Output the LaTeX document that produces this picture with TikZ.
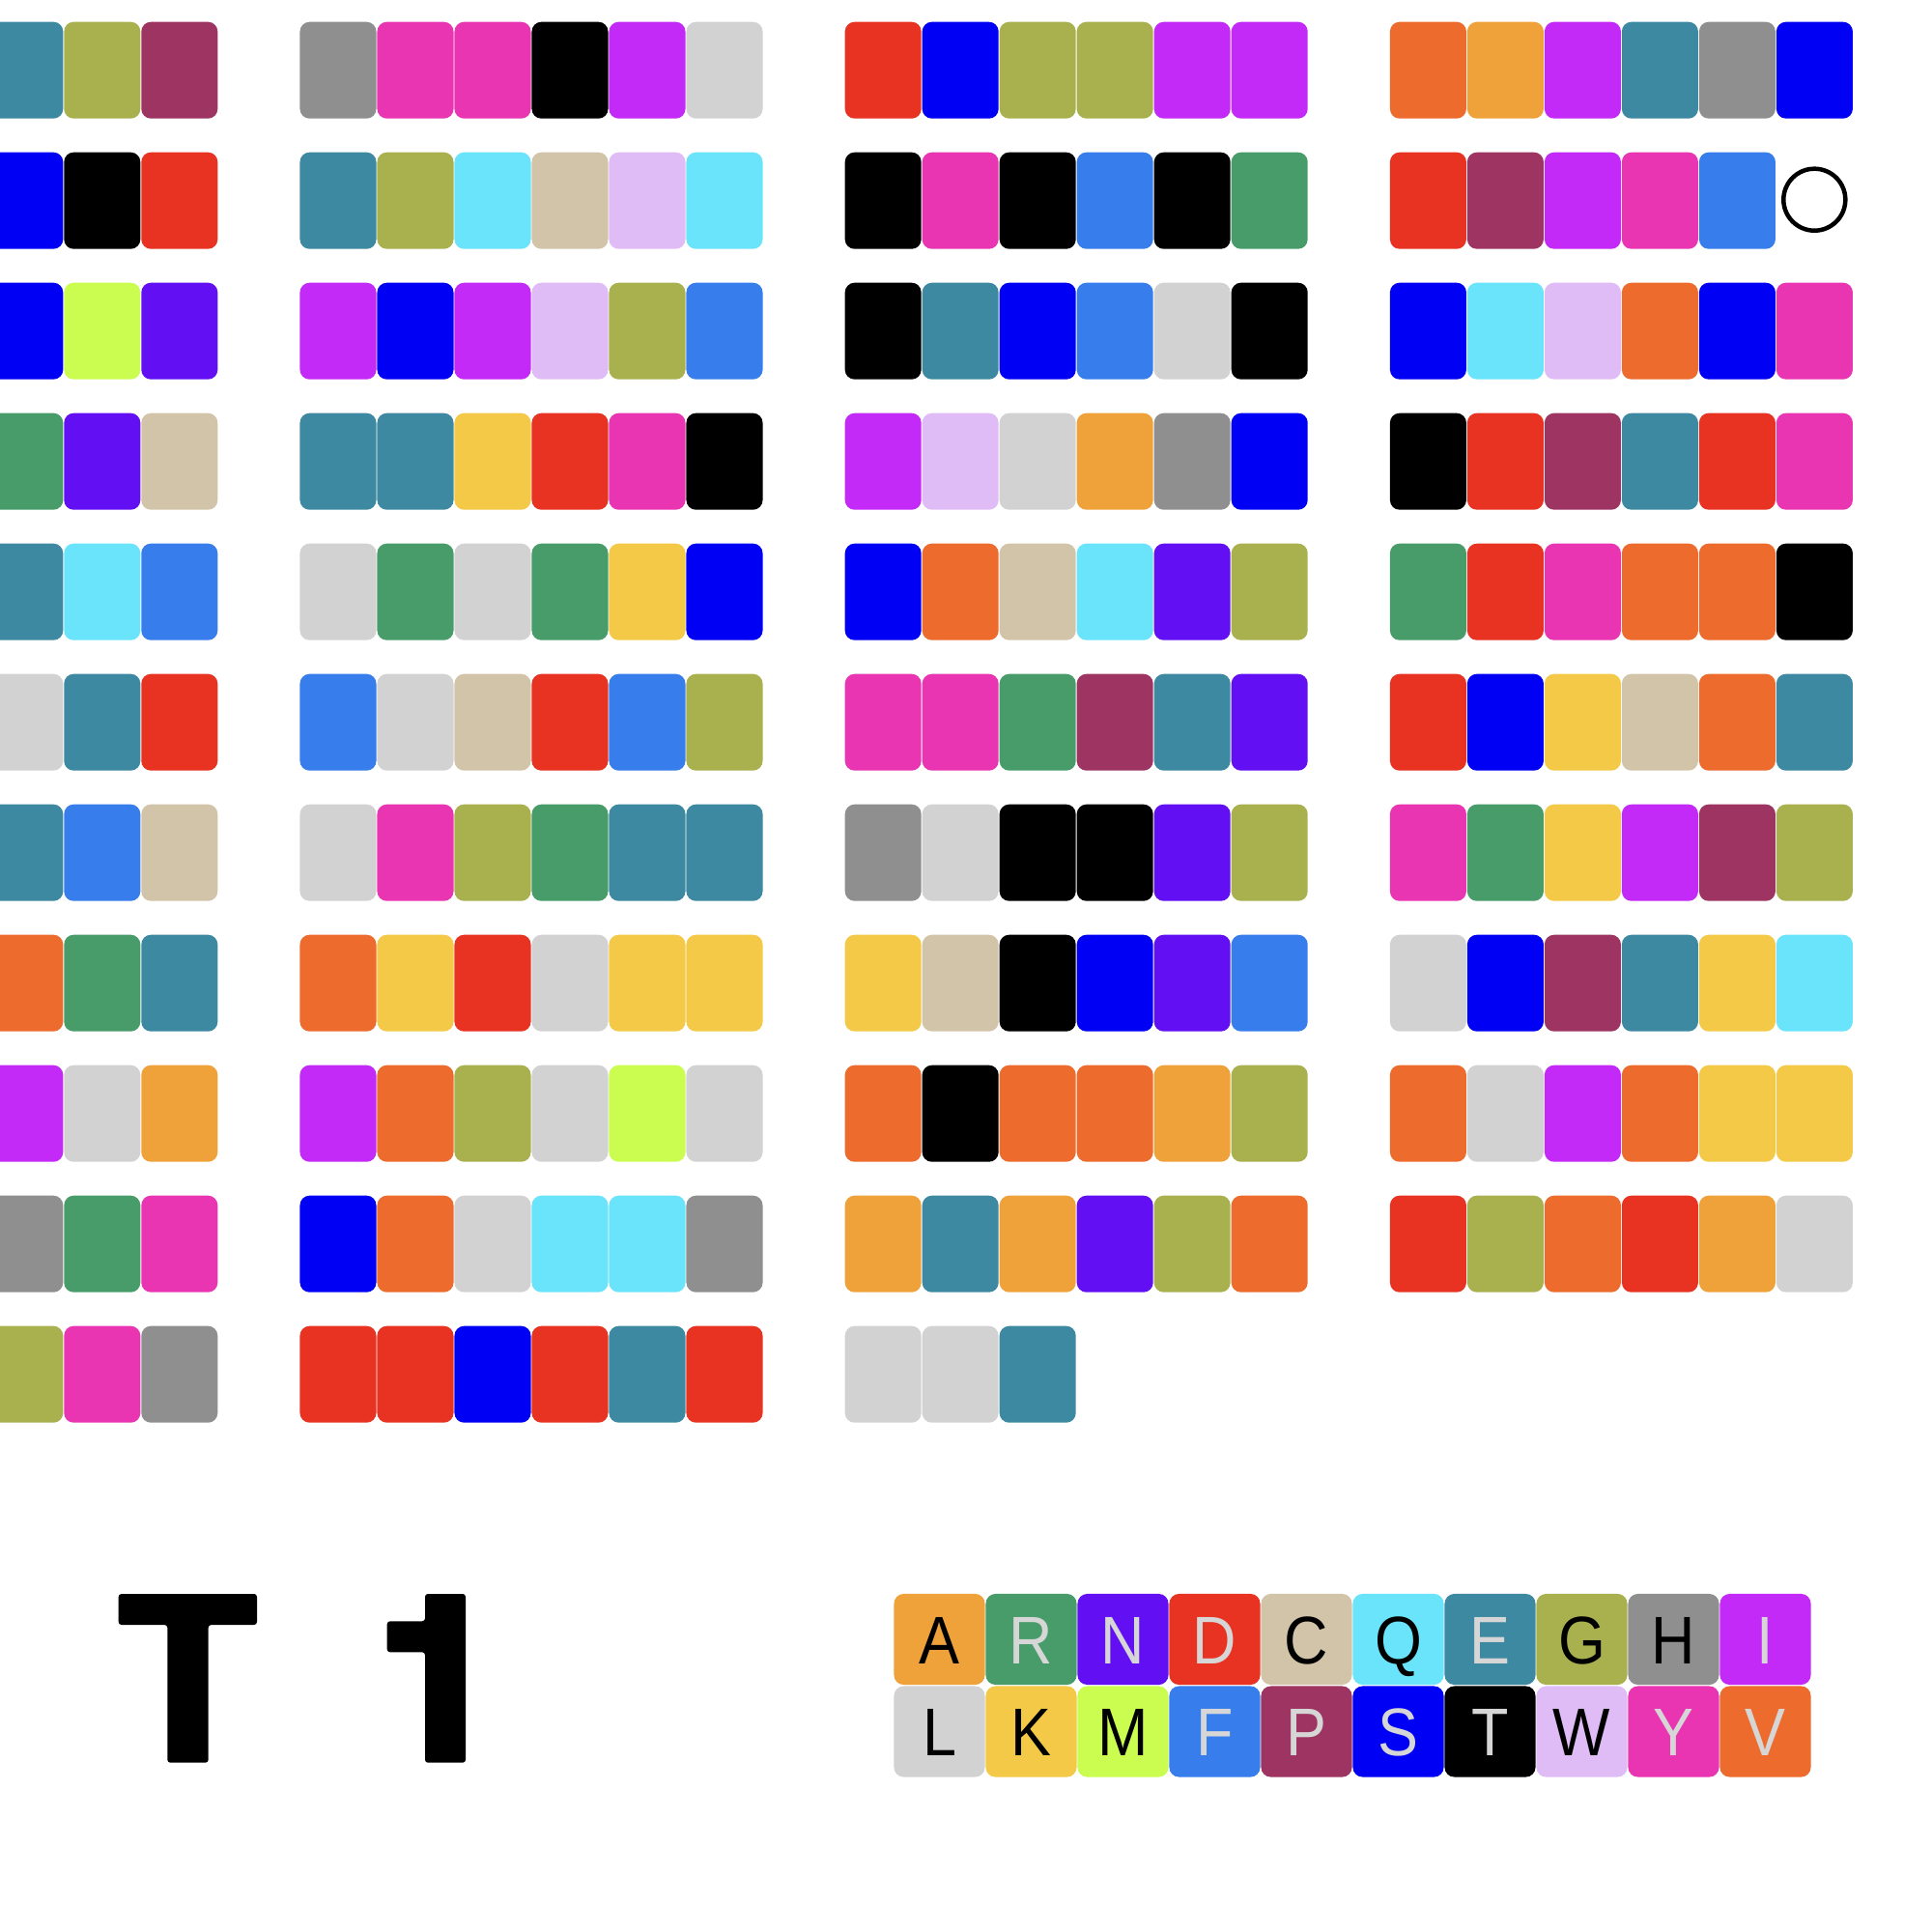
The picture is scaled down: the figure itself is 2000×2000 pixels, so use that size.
\documentclass[tikz,border=0pt]{standalone}
\usepackage{fontspec}
\setmainfont{Liberation Sans}
\newfontfamily\legfont[FakeStretch=0.9]{Liberation Sans}
\definecolor{aaA}{HTML}{F0A23A}
\definecolor{aaR}{HTML}{489C6A}
\definecolor{aaN}{HTML}{620FF3}
\definecolor{aaD}{HTML}{E83323}
\definecolor{aaC}{HTML}{D2C4A9}
\definecolor{aaQ}{HTML}{6AE4FA}
\definecolor{aaE}{HTML}{3D89A1}
\definecolor{aaG}{HTML}{A9B04E}
\definecolor{aaH}{HTML}{8F8F8F}
\definecolor{aaI}{HTML}{C42AF7}
\definecolor{aaL}{HTML}{D3D2D3}
\definecolor{aaK}{HTML}{F3C947}
\definecolor{aaM}{HTML}{CBFD50}
\definecolor{aaF}{HTML}{377EEC}
\definecolor{aaP}{HTML}{9D3461}
\definecolor{aaS}{HTML}{0000F5}
\definecolor{aaT}{HTML}{000000}
\definecolor{aaW}{HTML}{E0BCF7}
\definecolor{aaY}{HTML}{EA35B2}
\definecolor{aaV}{HTML}{EC6B2D}
\definecolor{lt}{HTML}{D6D6D6}
\begin{document}
\begin{tikzpicture}[x=0.01cm,y=-0.01cm,
  cell/.style={rectangle, rounded corners=1mm, minimum width=0.79cm, minimum height=1cm, inner sep=0pt},
  leg/.style={rectangle, rounded corners=1mm, minimum width=0.94cm, minimum height=0.94cm, inner sep=0pt,
    text height=0.5cm, text depth=0pt, font=\legfont\fontsize{19.86}{20}\selectfont},
  glyph/.style={fill=black, rounded corners=0.3mm}]
\useasboundingbox (0,0) rectangle (2000,2000);
\clip (0,0) rectangle (2000,2000);
\foreach \r/\b/\st/\s in {
 1/1/4/{E,G,P}, 1/2/1/{H,Y,Y,T,I,L}, 1/3/1/{D,S,G,G,I,I}, 1/4/1/{V,A,I,E,H,S},
 2/1/4/{S,T,D}, 2/2/1/{E,G,Q,C,W,Q}, 2/3/1/{T,Y,T,F,T,R}, 2/4/1/{D,P,I,Y,F},
 3/1/4/{S,M,N}, 3/2/1/{I,S,I,W,G,F}, 3/3/1/{T,E,S,F,L,T}, 3/4/1/{S,Q,W,V,S,Y},
 4/1/4/{R,N,C}, 4/2/1/{E,E,K,D,Y,T}, 4/3/1/{I,W,L,A,H,S}, 4/4/1/{T,D,P,E,D,Y},
 5/1/4/{E,Q,F}, 5/2/1/{L,R,L,R,K,S}, 5/3/1/{S,V,C,Q,N,G}, 5/4/1/{R,D,Y,V,V,T},
 6/1/4/{L,E,D}, 6/2/1/{F,L,C,D,F,G}, 6/3/1/{Y,Y,R,P,E,N}, 6/4/1/{D,S,K,C,V,E},
 7/1/4/{E,F,C}, 7/2/1/{L,Y,G,R,E,E}, 7/3/1/{H,L,T,T,N,G}, 7/4/1/{Y,R,K,I,P,G},
 8/1/4/{V,R,E}, 8/2/1/{V,K,D,L,K,K}, 8/3/1/{K,C,T,S,N,F}, 8/4/1/{L,S,P,E,K,Q},
 9/1/4/{I,L,A}, 9/2/1/{I,V,G,L,M,L}, 9/3/1/{V,T,V,V,A,G}, 9/4/1/{V,L,I,V,K,K},
 10/1/4/{H,R,Y}, 10/2/1/{S,V,L,Q,Q,H}, 10/3/1/{A,E,A,N,G,V}, 10/4/1/{D,G,V,D,A,L},
 11/1/4/{G,Y,H}, 11/2/1/{D,D,S,D,E,D}, 11/3/1/{L,L,E}}{
  \foreach \l [count=\i from \st] in \s {
    \node[cell, fill=aa\l] (c\r-\b-\i) at ({310+564.2*(\b-2)+80*(\i-1)+40},{72.7+135*(\r-1)}) {};
  }
}
\node[circle, draw=black, line width=0.045cm, minimum size=0.64cm, inner sep=0pt] (gap) at (1878.3,206.7) {};
\foreach \l/\tc [count=\j from 0] in {A/black,R/lt,N/lt,D/lt,C/black,Q/black,E/lt,G/black,H/black,I/lt} {
  \node[leg, fill=aa\l, text=\tc] (k\l) at ({925+95*\j+47.5},{1650+47}) {\l};
}
\foreach \l/\tc [count=\j from 0] in {L/black,K/black,M/black,F/lt,P/lt,S/lt,T/lt,W/black,Y/lt,V/lt} {
  \node[leg, fill=aa\l, text=\tc] (k\l) at ({925+95*\j+47.5},{1745.5+47}) {\l};
}
\fill[glyph] (122.7,1650) -- (266,1650) -- (266,1682) -- (215.7,1682) -- (215.7,1824.7) -- (173.3,1824.7) -- (173.3,1682) -- (122.7,1682) -- cycle;
\fill[glyph] (440,1650) -- (482,1650) -- (482,1824.7) -- (440,1824.7) -- (440,1710.3) -- (400.7,1710.3) -- (400.7,1678.3) -- (440,1678.3) -- cycle;
\end{tikzpicture}
\end{document}
